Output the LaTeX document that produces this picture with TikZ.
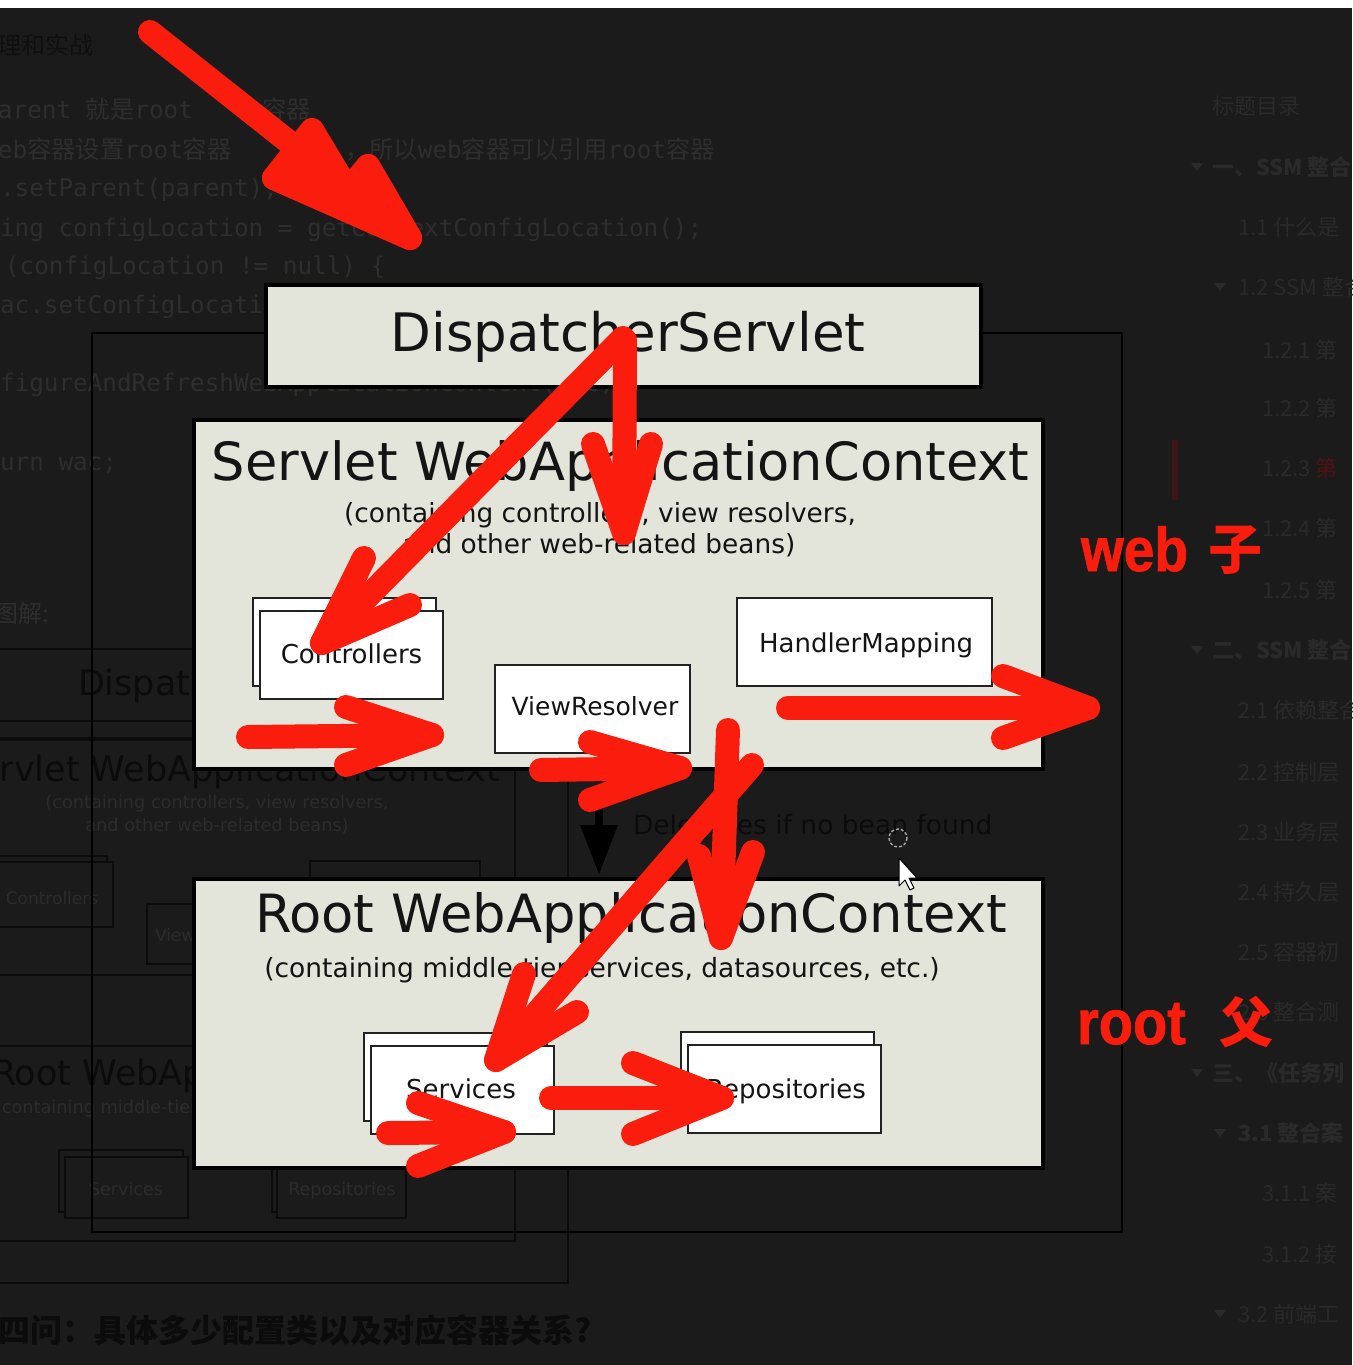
\documentclass[tikz,border=0pt]{standalone}
\usepackage{fontspec}
\setmainfont{DejaVu Sans}
\newfontfamily\monof{DejaVu Sans Mono}
\newfontfamily\cjkf{Noto Sans CJK SC}
\newfontfamily\redf{Liberation Sans}[BoldFeatures={FakeBold=1.3}]
\newcommand{\myfs}[1]{\fontsize{#1pt}{#1pt}\selectfont}
\definecolor{bgc}{RGB}{27,27,27}
\definecolor{boxfill}{RGB}{227,228,218}
\definecolor{penred}{RGB}{250,28,12}
\definecolor{codegray}{RGB}{46,46,46}
\definecolor{tocgray}{RGB}{42,42,42}
\definecolor{inkc}{RGB}{20,20,20}
\definecolor{innerline}{RGB}{34,34,34}
\definecolor{faintdark}{RGB}{11,11,11}
\definecolor{faintlight}{RGB}{44,44,44}
\definecolor{tocred}{RGB}{80,18,18}
\newcommand{\pen}[5]{%
  \coordinate (#1s) at #2; \coordinate (#1t) at #3;
  \draw[redpen] (#1s) -- (#1t);
  \draw[redpen] #4 -- (#1t) -- #5;}
\begin{document}
\begin{tikzpicture}[x=1pt,y=-1pt,
  mainbox/.style={draw=black,line width=3.5pt,fill=boxfill,inner sep=0pt,outer sep=0pt},
  innerbox/.style={draw=innerline,line width=1.8pt,fill=white,inner sep=0pt,outer sep=0pt},
  lbl/.style={inner sep=0pt,outer sep=0pt,text=inkc,anchor=base},
  redpen/.style={draw=penred,line width=24pt,line cap=round,line join=round},
  frameline/.style={draw=black,line width=2.5pt},
  fline/.style={draw=faintdark,line width=1.6pt},
  codetxt/.style={inner sep=0pt,outer sep=0pt,anchor=base west,text=codegray,font={\monof\myfs{24.3}}},
  toc/.style={inner sep=0pt,outer sep=0pt,anchor=west,text=tocgray,font={\cjkf\myfs{22}}},
  tocb/.style={toc,font={\cjkf\bfseries\myfs{22}}},
  fainttxt/.style={inner sep=0pt,outer sep=0pt,anchor=base,text=faintlight},
  faintbig/.style={inner sep=0pt,outer sep=0pt,anchor=base west,text=faintdark,font={\myfs{35}}},
  redtxt/.style={inner sep=0pt,outer sep=0pt,text=penred}
]
\useasboundingbox (0,0) rectangle (1352,1365);
\fill[bgc] (0,0) rectangle (1352,1365);
\fill[white] (0,0) rectangle (1352,8);

% ---------- background code text ----------
\node[inner sep=0pt,anchor=west,text=codegray!115,font={\cjkf\myfs{24}}] (c0) at (-3,45) {理和实战};
\node[codetxt] (c1) at (-2,118) {arent {\cjkf 就是}root};
\node[codetxt] (c1b) at (262,118) {{\cjkf 容器}};
\node[codetxt] (c2) at (-2,158) {eb{\cjkf 容器设置}root{\cjkf 容器}};
\node[codetxt] (c2b) at (345,158) {{\cjkf ，所以}web{\cjkf 容器可以引用}root{\cjkf 容器}};
\node[codetxt] (c3) at (0,196) {.setParent(parent);};
\node[codetxt] (c4) at (0,236) {ing configLocation = getContextConfigLocation();};
\node[codetxt] (c5) at (5,274) {(configLocation != null) \{};
\node[codetxt] (c6) at (0,313) {ac.setConfigLocation(configLocation);};
\node[codetxt] (c7) at (0,391) {figureAndRefreshWebApplicationContext(wac);};
\node[codetxt] (c8) at (0,470) {urn wac;};
\node[inner sep=0pt,anchor=west,text=codegray,font={\cjkf\myfs{24}}] (tj) at (-6,613) {图解:};

% ---------- right table of contents ----------
\node[toc] (t0) at (1212,106) {标题目录};
\fill[tocgray] (1191,163) -- (1203,163) -- (1197,171) -- cycle;
\node[tocb] (t1) at (1212,167) {一、SSM 整合};
\node[toc] (t2) at (1238,227) {1.1 什么是};
\fill[tocgray] (1214,283) -- (1226,283) -- (1220,291) -- cycle;
\node[toc] (t3) at (1238,287) {1.2 SSM 整合};
\node[toc] (t4) at (1262,350) {1.2.1 第};
\node[toc] (t5) at (1262,408) {1.2.2 第};
\node[toc] (t6) at (1262,468) {1.2.3 {\color{tocred}第}};
\node[toc] (t7) at (1262,528) {1.2.4 第};
\node[toc] (t8) at (1262,590) {1.2.5 第};
\fill[tocgray] (1191,646) -- (1203,646) -- (1197,654) -- cycle;
\node[tocb] (t9) at (1212,650) {二、SSM 整合};
\node[toc] (t10) at (1238,710) {2.1 依赖整合};
\node[toc] (t11) at (1238,772) {2.2 控制层};
\node[toc] (t12) at (1238,832) {2.3 业务层};
\node[toc] (t13) at (1238,892) {2.4 持久层};
\node[toc] (t14) at (1238,952) {2.5 容器初};
\node[toc] (t15) at (1238,1012) {2.6 整合测};
\fill[tocgray] (1191,1069) -- (1203,1069) -- (1197,1077) -- cycle;
\node[tocb] (t16) at (1212,1073) {三、《任务列};
\fill[tocgray] (1214,1129) -- (1226,1129) -- (1220,1137) -- cycle;
\node[tocb] (t17) at (1238,1133) {3.1 整合案};
\node[toc] (t18) at (1262,1193) {3.1.1 案};
\node[toc] (t19) at (1262,1254) {3.1.2 接};
\fill[tocgray] (1214,1310) -- (1226,1310) -- (1220,1318) -- cycle;
\node[toc] (t20) at (1238,1314) {3.2 前端工};
\fill[tocred!70!bgc] (1172,440) rectangle (1178,500);

% ---------- faint background diagram (left) ----------
\draw[fline] (-10,649) rectangle (300,721);
\node[faintbig] (fd) at (78,695) {DispatcherServlet};
\draw[fline] (-10,738) rectangle (515,975);
\draw[fline] (-10,740) -- (568,740) -- (568,1283) -- (-10,1283);
\node[faintbig] (fs) at (-44,781) {Servlet WebApplicationContext};
\node[fainttxt,font={\myfs{17.7}}] (fs1) at (217,808) {(containing controllers, view resolvers,};
\node[fainttxt,font={\myfs{17.7}}] (fs2) at (217,831) {and other web-related beans)};
\draw[fline,fill=bgc] (-10,856) rectangle (107,920);
\draw[fline,fill=bgc] (-10,862) rectangle (113,927);
\node[fainttxt,font={\myfs{17}}] (fc) at (52,904) {Controllers};
\draw[fline,fill=bgc] (147,904) rectangle (240,964);
\node[fainttxt,font={\myfs{17}},anchor=base west] (fv) at (155,941) {ViewResolver};
\draw[fline] (310,861) rectangle (480,940);
\draw[fline] (-10,1046) rectangle (515,1241);
\node[faintbig] (fr) at (-8,1085) {Root WebApplicationContext};
\node[fainttxt,font={\myfs{17.7}},anchor=base west] (fr1) at (-5,1113) {(containing middle-tier services, datasources, etc.)};
\draw[fline,fill=bgc] (59,1150) rectangle (183,1212);
\draw[fline,fill=bgc] (65,1157) rectangle (188,1218);
\node[fainttxt,font={\myfs{17.5}}] (fsv) at (126,1195) {Services};
\draw[fline,fill=bgc] (272,1150) rectangle (400,1212);
\draw[fline,fill=bgc] (277,1157) rectangle (406,1218);
\node[fainttxt,font={\myfs{17.5}}] (frp) at (342,1195) {Repositories};

% ---------- frame ----------
\draw[frameline] (92,333) rectangle (1122,1232);

% bottom heading
\node[inner sep=0pt,anchor=base west,text=faintdark,font={\cjkf\bfseries\myfs{32}}] (q4) at (-2,1342) {四问：具体多少配置类以及对应容器关系?};

% ---------- main diagram ----------
\node[mainbox,minimum width=715,minimum height=102] (ds) at (623.5,336) {};
\node[lbl,font={\myfs{53}}] (dst) at (628,351) {DispatcherServlet};

\node[mainbox,minimum width=849,minimum height=349] (swac) at (618.5,594.5) {};
\node[lbl,font={\myfs{52.6}}] (swt) at (620.5,480) {Servlet WebApplicationContext};
\node[lbl,font={\myfs{26.4}}] (sws1) at (600,522) {(containing controllers, view resolvers,};
\node[lbl,font={\myfs{26.4}}] (sws2) at (599,553) {and other web-related beans)};

\node[innerbox,minimum width=183,minimum height=88] (ctlb) at (344.5,642) {};
\node[innerbox,minimum width=183,minimum height=88] (ctl) at (351.5,655) {};
\node[lbl,font={\myfs{26}}] (ctlt) at (351.5,663) {Controllers};
\node[innerbox,minimum width=195,minimum height=88] (vr) at (592.5,709) {};
\node[lbl,font={\myfs{25}}] (vrt) at (595,715) {ViewResolver};
\node[innerbox,minimum width=255,minimum height=88] (hm) at (864.5,642) {};
\node[lbl,font={\myfs{26}}] (hmt) at (866,652) {HandlerMapping};

\node[mainbox,minimum width=849,minimum height=289] (rwac) at (618.5,1023.5) {};
\node[lbl,font={\myfs{52.7}}] (rwt) at (631,932) {Root WebApplicationContext};
\node[lbl,font={\myfs{26.5}}] (rws) at (602,977) {(containing middle-tier services, datasources, etc.)};

\node[innerbox,minimum width=183,minimum height=88] (svb) at (455.5,1077) {};
\node[innerbox,minimum width=183,minimum height=88] (sv) at (462.5,1090) {};
\node[lbl,font={\myfs{26}}] (svt) at (461,1098) {Services};
\node[innerbox,minimum width=193,minimum height=88] (rpb) at (777.5,1076) {};
\node[innerbox,minimum width=193,minimum height=88] (rp) at (784.5,1089) {};
\node[lbl,font={\myfs{26}}] (rpt) at (786,1098) {Repositories};

% delegation arrow
\coordinate (dg1) at (599,797);
\coordinate (dg2) at (599,874);
\fill[black] (595,797) rectangle (603,830);
\fill[black] (580,825) -- (618,825) -- (dg2) -- cycle;
\node[inner sep=0pt,outer sep=0pt,anchor=base west,text=faintdark,font={\myfs{26.5}}] (dgt) at (633,834) {Delegates if no bean found};

% mouse cursor
\draw[gray!70,line width=1.4pt,dash pattern=on 3pt off 2pt] (898,838) circle (9);
\draw[black,fill=white,line width=1pt,line join=round] (899,858) -- (899,886) -- (905,880) -- (910,890) -- (914,888) -- (909,878) -- (917,878) -- cycle;

% ---------- red hand-drawn annotations ----------
\pen{a1}{(150,32)}{(410,238)}{(274,178)}{(368,166)}
\draw[redpen,fill=penred] (274,178) -- (312,130) -- (348,190) -- (368,166) -- (a1t) -- cycle;
\pen{a2}{(623,338)}{(322,643)}{(410,605)}{(364,558)}
\pen{a3}{(625,340)}{(624,533)}{(593,444)}{(651,444)}
\pen{a4}{(248,737)}{(432,735)}{(346,707)}{(346,765)}
\pen{a5}{(541,770)}{(680,768)}{(590,742)}{(590,800)}
\pen{a6}{(728,730)}{(721,938)}{(699,856)}{(753,852)}
\pen{a7}{(752,765)}{(496,1060)}{(524,974)}{(577,1012)}
\pen{a8}{(788,708)}{(1088,708)}{(1003,676)}{(1003,738)}
\pen{a9}{(388,1133)}{(504,1132)}{(418,1103)}{(418,1166)}
\pen{a10}{(551,1098)}{(722,1098)}{(633,1063)}{(633,1134)}

\node[redtxt,anchor=base west,font={\redf\bfseries\myfs{55}}] (web) at (1081,571) {\scalebox{1}[1.12]{web}};
\node[redtxt,font={\cjkf\bfseries\myfs{54}}] (zi) at (1235,550) {子};
\node[redtxt,anchor=base west,font={\redf\bfseries\myfs{56}}] (root) at (1077,1044) {\scalebox{1}[1.12]{root}};
\node[redtxt,font={\cjkf\bfseries\myfs{54}}] (fu) at (1246,1022) {父};
\end{tikzpicture}
\end{document}
